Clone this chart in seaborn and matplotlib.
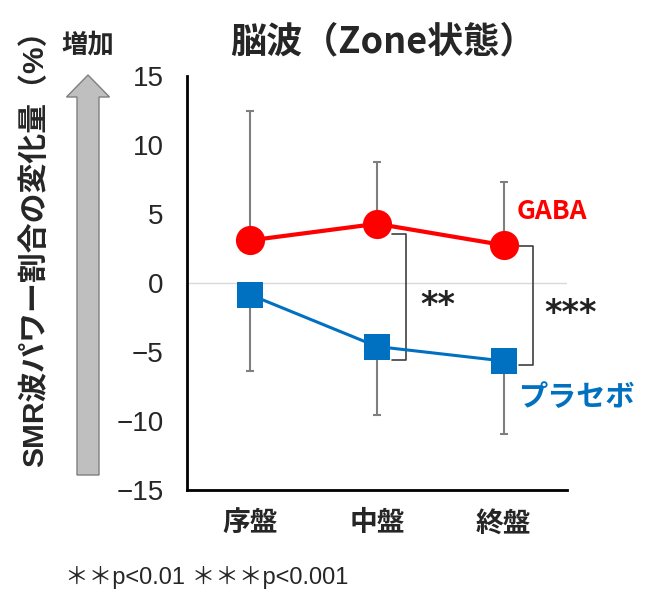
import numpy as np
import pandas as pd
import matplotlib
matplotlib.use("Agg")
import matplotlib.pyplot as plt
from matplotlib.patches import FancyArrow
import seaborn as sns

# data
stages = ["序盤", "中盤", "終盤"]
gaba_mean = [3.1, 4.3, 2.75]
gaba_err = [9.4, 4.5, 4.55]       # upper error only
placebo_mean = [-0.85, -4.6, -5.65]
placebo_err = [5.5, 5.0, 5.3]     # lower error only
yticks = [15, 10, 5, 0, -5, -10, -15]

sns.set_theme(style="white")
plt.rcParams['font.family'] = ['Noto Sans CJK JP', 'DejaVu Sans']
latin = ['Liberation Sans', 'Noto Sans CJK JP']

df = pd.DataFrame({
    "stage": stages * 2,
    "x": list(range(3)) * 2,
    "value": gaba_mean + placebo_mean,
    "group": ["GABA"] * 3 + ["プラセボ"] * 3,
})

red = "#FF0000"
blue = "#0070C0"

fig = plt.figure(figsize=(6.67, 5.91), dpi=100)
ax = fig.add_axes([0.2804, 0.171, 0.5697, 0.700])

# zero line
ax.axhline(0, color="#D9D9D9", lw=1, zorder=0)

# one-sided error bars
x = np.arange(3)
ax.errorbar(x, gaba_mean, yerr=[np.zeros(3), gaba_err], fmt="none",
            ecolor="#7F7F7F", elinewidth=1.5, capsize=3, capthick=1.5, zorder=1)
ax.errorbar(x, placebo_mean, yerr=[placebo_err, np.zeros(3)], fmt="none",
            ecolor="#7F7F7F", elinewidth=1.5, capsize=3, capthick=1.5, zorder=1)

sns.lineplot(data=df[df.group == "GABA"], x="x", y="value", ax=ax,
             color=red, lw=3, marker="o", markersize=21, markeredgewidth=0,
             zorder=3)
sns.lineplot(data=df[df.group == "プラセボ"], x="x", y="value", ax=ax,
             color=blue, lw=2.2, marker="s", markersize=19, markeredgewidth=0,
             zorder=3)

# significance brackets
def bracket(xc, top, bottom, label, tx, ty):
    xs = [xc + 0.12, xc + 0.23, xc + 0.23, xc + 0.12]
    ys = [top, top, bottom, bottom]
    ax.plot(xs, ys, color="#404040", lw=1.2, zorder=2)
    ax.text(tx, ty, label, fontsize=24, fontweight="bold", ha="center",
            va="center", color="#222222", family="DejaVu Sans")

bracket(1, 3.55, -5.6, "**", 1.48, -1.6)
bracket(2, 2.7, -5.95, "***", 2.53, -2.2)

ax.text(2.1, 5.2, "GABA", color=red, fontsize=19, fontweight="bold",
        ha="left", va="center")
ax.text(2.12, -8.3, "プラセボ", color=blue, fontsize=21, fontweight="bold",
        ha="left", va="center")

ax.set_xlim(-0.5, 2.5)
ax.set_ylim(-15, 15)
ax.set_yticks(yticks)
ax.set_yticklabels([str(v).replace("-", "−") for v in yticks], fontsize=20,
                   family=latin)
ax.set_xticks(x)
ax.set_xticklabels(stages, fontsize=20, fontweight="bold")
ax.tick_params(axis="x", pad=14, length=0)
ax.tick_params(axis="y", pad=17, length=0)
ax.set_xlabel("")
ax.set_ylabel("")
for s in ["top", "right"]:
    ax.spines[s].set_visible(False)
for s in ["left", "bottom"]:
    ax.spines[s].set_color("black")
    ax.spines[s].set_linewidth(2)

fig.text(383 / 667, 1 - 42 / 591, "脳波（Zone状態）", fontsize=26,
         fontweight="bold", ha="center", va="center")

# y label and arrow
fig.text(35 / 667, 1 - 241 / 591, "SMR波パワー割合の変化量（%）", rotation=90,
         fontsize=21.5, fontweight="bold", ha="center", va="center", family=latin)
fig.text(88 / 667, 1 - 45 / 591, "増加", fontsize=19, fontweight="bold",
         ha="center", va="center")
arrow = FancyArrow(0.88, 5.91 - 4.75, 0, 4.0, width=0.22, head_width=0.43,
                   head_length=0.22, length_includes_head=True,
                   transform=fig.dpi_scale_trans, facecolor="#BFBFBF",
                   edgecolor="#7F7F7F", lw=1)
fig.patches.append(arrow)

fig.text(65 / 667, 1 - 577 / 591, "＊＊p<0.01 ＊＊＊p<0.001", fontsize=17,
         ha="left", va="center", family=latin)

fig.savefig("out.png", dpi=100)
